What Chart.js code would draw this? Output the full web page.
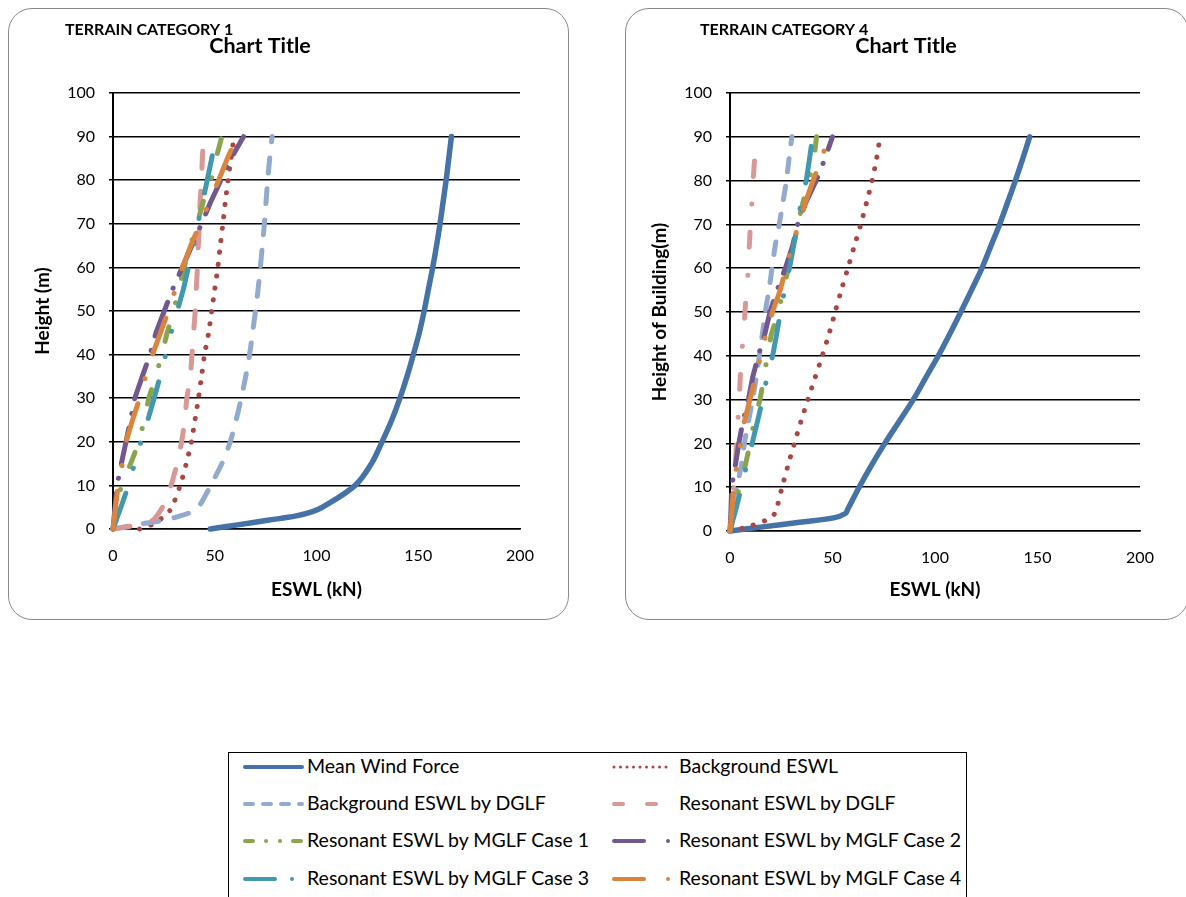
<!DOCTYPE html>
<html>
<head>
<meta charset="utf-8">
<script src="https://cdn.jsdelivr.net/npm/chart.js@4.4.0/dist/chart.umd.min.js"></script>
<style>
    body { margin: 0; width: 1186px; height: 897px; overflow: hidden; position: relative; background: #fff; font-family: Lato, "Open Sans", sans-serif; }
    .box { position: absolute; top: 8px; height: 610px; border: 1.5px solid #8a8a8a; border-radius: 24px; background: #fff; overflow: hidden; }
    #boxTc1 { left: 8px; width: 559px; }
    #boxTc4 { left: 625px; width: 562px; }
    .box canvas { display: block; }
    #legend { position: absolute; left: 228px; top: 752px; width: 737px; height: 170px; border: 1px solid #000; background: #fff; }
    .lg-item { position: absolute; height: 20px; width: 360px; }
    .lg-item svg { position: absolute; left: 0; top: 0; }
    .lg-item span { position: absolute; top: -1px; white-space: nowrap; font-size: 19.5px; color: #000; line-height: 20px; }
</style>
</head>
<body>
<div class="box" id="boxTc1"><canvas id="chartTc1" width="559" height="610"></canvas></div>
<div class="box" id="boxTc4"><canvas id="chartTc4" width="560" height="610"></canvas></div>
<div id="legend"></div>

<script>
// data (ESWL dalam kN, tinggi dalam m)
const heights = [0, 1, 2, 3, 4, 5, 10, 15, 20, 25, 30, 35, 40, 45, 50, 55, 60, 65, 70, 75, 80, 85, 90];

const seriesNames = [
    'Mean Wind Force',
    'Background ESWL',
    'Background ESWL by DGLF',
    'Resonant ESWL by DGLF',
    'Resonant ESWL by MGLF Case 1',
    'Resonant ESWL by MGLF Case 2',
    'Resonant ESWL by MGLF Case 3',
    'Resonant ESWL by MGLF Case 4'
];

// Terrain category 1
const tc1Mean     = [47.8, 62, 76, 90, 98, 103, 119, 127, 132.2, 137, 141, 144.5, 147.6, 150.5, 152.9, 155, 157.1, 159, 160.7, 162.2, 163.7, 165, 166.3];
const tc1Bg       = [13, 19, 22.5, 25.5, 27.5, 29, 33, 36, 38.5, 40.3, 42, 43.5, 45, 47, 48.5, 50, 51.5, 52.7, 54, 55.2, 56.5, 58, 59.5];
const tc1BgDglf   = [0, 12, 25, 33, 39, 42, 48, 53.5, 57.6, 60.5, 63, 65.2, 67.1, 68.6, 70, 71.3, 72.4, 73.4, 74.4, 75.2, 76, 77, 78.2];
const tc1ResDglf  = [0, 13, 19.5, 21.5, 23, 24.3, 28.5, 31.5, 33.7, 35.3, 36.3, 38, 38.8, 39.6, 40.4, 40.9, 41.5, 41.9, 42.5, 42.8, 43.5, 43.9, 44.5];
const tc1Case1    = [0, 0.4, 0.8, 1.2, 1.6, 2, 4, 8.7, 12.8, 15.3, 17.6, 21, 24, 26.6, 29.8, 32.3, 35, 38, 41.3, 44.3, 48.2, 50.6, 53.5];
const tc1Case2    = [0, 0.2, 0.4, 0.6, 0.8, 1, 2, 4.1, 6.4, 8.6, 10.7, 14.4, 18.2, 21.1, 25.2, 29.3, 34, 38.8, 43.5, 48, 53, 58, 64.2];
const tc1Case3    = [0, 0.8, 1.6, 2.3, 3.1, 3.9, 7.6, 10.6, 13.7, 17.1, 20.2, 23.2, 25.9, 28.5, 31.6, 34.6, 37, 39.6, 41.7, 44, 46.3, 48.5, 50.5];
const tc1Case4    = [0, 0.25, 0.5, 0.75, 1, 1.25, 2.5, 4.6, 6.4, 9.6, 13.1, 16, 19.4, 23.3, 27.2, 30.7, 34.2, 38.2, 42.8, 47.4, 51.9, 56.2, 61];

// Terrain category 4
const tc4Mean     = [0, 17, 34, 50.5, 56.3, 57.5, 63, 69, 75.5, 82.5, 89.4, 95.5, 101.6, 107.2, 112.6, 117.8, 122.9, 127.2, 131.5, 135.4, 139.2, 142.8, 146.2];
const tc4Bg       = [0, 9, 15, 20.2, 21.8, 22.7, 25.4, 28.3, 31.4, 34.6, 38, 41.5, 45, 48.3, 51.3, 54.3, 57.5, 60.6, 63.8, 66.6, 69.3, 71.5, 73.2];
const tc4BgDglf   = [0, 0.5, 1, 1.4, 1.8, 2.1, 3.5, 5.5, 7, 9, 11, 12.8, 14.3, 15.8, 17.2, 19, 20.5, 22, 24, 25.8, 27.5, 28.8, 30.2];
const tc4ResDglf  = [0, 0.2, 0.4, 0.6, 0.8, 1, 1.8, 2.7, 3.1, 3.8, 4.5, 5, 5.6, 6.6, 7.3, 8, 9, 9.4, 10, 10.7, 11.3, 12, 12.6];
const tc4Case1    = [0, 0.4, 0.8, 1.2, 1.6, 2, 4.5, 7.5, 9.8, 11.8, 14.6, 16.6, 18.2, 20.2, 23.6, 26, 28.5, 30.8, 33, 35.6, 38.5, 41, 42.2];
const tc4Case2    = [0, 0.1, 0.2, 0.3, 0.4, 0.5, 0.8, 2.6, 4.3, 6.3, 9, 11, 13.8, 17, 19.5, 23, 27, 30.5, 33, 37, 42, 46.3, 50];
const tc4Case3    = [0, 0.6, 1.1, 1.7, 2.3, 2.9, 5.6, 8.1, 10.8, 13.4, 15.9, 18, 20.8, 22.8, 24.6, 26.6, 29, 31, 33, 34.6, 37.2, 38.8, 40.3];
const tc4Case4    = [0, 0.2, 0.4, 0.6, 0.8, 1, 1.8, 3.3, 5.2, 7, 9.7, 12.4, 15, 17.6, 20.7, 24.5, 27.3, 30.2, 33.5, 36.8, 40.5, 44.7, 48];

const xTicks = [0, 50, 100, 150, 200];
const yTicks = [0, 10, 20, 30, 40, 50, 60, 70, 80, 90, 100];

// warna gaya Excel
const seriesColors = ['#4572A7', '#AA4643', '#93AACF', '#D99795', '#89A54E', '#71588F', '#4198AF', '#DB843D'];
const seriesTension = [0.35, 0.3, 0.3, 0.2, 0, 0, 0, 0];

// pola garis putus-putus (lebar garis 5, ujung bulat)
const dashTc1 = [[], [0.1, 11.9], [15, 16], [17, 23], [15, 25, 0.1, 25], [36, 15, 0.1, 15], [38, 26, 0.1, 26, 0.1, 26], [38, 26, 0.1, 26]];
const dashTc4 = [[], [0.1, 11.9], [13, 15], [15, 28, 0.1, 28], [15, 25, 0.1, 25], [36, 15, 0.1, 15], [37, 26, 0.1, 26], [38, 24, 0.1, 24, 0.1, 24]];

// plugin untuk judul di atas grafik
const headerText = {
    id: 'headerText',
    afterDraw(chart, args, opts) {
        const ctx = chart.ctx;
        ctx.save();
        ctx.fillStyle = '#000';
        ctx.textBaseline = 'middle';
        ctx.textAlign = 'left';
        ctx.font = 'bold 16px Lato';
        ctx.fillText(opts.terrain, opts.terrainX, 21);
        ctx.textAlign = 'center';
        ctx.font = 'bold 21.5px Lato';
        ctx.fillText(opts.title, opts.titleX, 37);
        ctx.restore();
    }
};

function buildDatasets(valueLists, dashes) {
    return valueLists.map(function(values, i) {
        return {
            label: seriesNames[i],
            data: values.map(function(v, k) { return { x: v, y: heights[k] }; }),
            showLine: true,
            borderColor: seriesColors[i],
            backgroundColor: seriesColors[i],
            borderWidth: i === 0 ? 5.5 : 5,
            borderDash: dashes[i],
            borderCapStyle: 'round',
            borderJoinStyle: 'round',
            tension: seriesTension[i],
            pointRadius: 0,
            fill: false,
            clip: false,
            order: valueLists.length - i
        };
    });
}

function makeChart(canvasId, valueLists, dashes, yTitle, header, rightPad, bottomSize) {
    const ctx = document.getElementById(canvasId).getContext('2d');
    return new Chart(ctx, {
        type: 'scatter',
        data: { datasets: buildDatasets(valueLists, dashes) },
        plugins: [headerText],
        options: {
            responsive: false,
            animation: false,
            events: [],
            layout: { padding: { top: 84, right: rightPad, bottom: 0, left: 0 } },
            plugins: {
                legend: { display: false },
                tooltip: { enabled: false },
                title: { display: false },
                headerText: header
            },
            scales: {
                x: {
                    type: 'linear',
                    min: 0,
                    max: 200,
                    afterBuildTicks: function(scale) { scale.ticks = xTicks.map(function(v) { return { value: v }; }); },
                    afterFit: function(scale) { scale.height = bottomSize; },
                    grid: { display: false, drawTicks: false },
                    border: { display: true, color: '#000', width: 1.5 },
                    ticks: { color: '#000', padding: 17, maxRotation: 0, font: { family: 'Lato', size: 16 } },
                    title: { display: true, text: 'ESWL (kN)', color: '#000', padding: { top: 0, bottom: 18 }, font: { family: 'Lato', size: 19, weight: 'bold' } }
                },
                y: {
                    type: 'linear',
                    min: 0,
                    max: 100,
                    afterBuildTicks: function(scale) { scale.ticks = yTicks.map(function(v) { return { value: v }; }); },
                    afterFit: function(scale) { scale.width = 104; },
                    grid: { color: '#000', lineWidth: 1.5, drawTicks: true, tickLength: 4 },
                    border: { display: true, color: '#000', width: 2 },
                    ticks: { color: '#000', padding: 14, font: { family: 'Lato', size: 16 } },
                    title: { display: true, text: yTitle, color: '#000', padding: { top: 22, bottom: 0 }, font: { family: 'Lato', size: 19, weight: 'bold' } }
                }
            }
        }
    });
}

makeChart('chartTc1',
    [tc1Mean, tc1Bg, tc1BgDglf, tc1ResDglf, tc1Case1, tc1Case2, tc1Case3, tc1Case4],
    dashTc1, 'Height (m)',
    { terrain: 'TERRAIN CATEGORY 1', terrainX: 56, title: 'Chart Title', titleX: 251 },
    48, 90);

makeChart('chartTc4',
    [tc4Mean, tc4Bg, tc4BgDglf, tc4ResDglf, tc4Case1, tc4Case2, tc4Case3, tc4Case4],
    dashTc4, 'Height of Building(m)',
    { terrain: 'TERRAIN CATEGORY 4', terrainX: 74, title: 'Chart Title', titleX: 280 },
    46, 88);

// legenda bersama (HTML + SVG)
const legendDash = ['', '0 6.5', '8 10', '9 24', '8 13 0 14 0 13', '30 24 0 40', '30 17 0 40', '30 24 0 40'];
const legendWidth = [4, 3, 4, 4, 4, 4, 4, 4];
const legendRowsY = [4, 41, 78, 116];
const legendColsX = [14, 383];
const legendTextX = [64, 67];

function buildLegend() {
    const box = document.getElementById('legend');
    seriesNames.forEach(function(name, i) {
        const col = i % 2;
        const item = document.createElement('div');
        item.className = 'lg-item';
        item.style.left = legendColsX[col] + 'px';
        item.style.top = legendRowsY[Math.floor(i / 2)] + 'px';
        item.innerHTML =
            '<svg width="62" height="20"><line x1="2" y1="10" x2="59" y2="10" stroke="' + seriesColors[i] +
            '" stroke-width="' + legendWidth[i] + '" stroke-linecap="round"' +
            (legendDash[i] ? ' stroke-dasharray="' + legendDash[i] + '"' : '') + '/></svg>' +
            '<span style="left:' + legendTextX[col] + 'px">' + name + '</span>';
        box.appendChild(item);
    });
}
buildLegend();
</script>
</body>
</html>
